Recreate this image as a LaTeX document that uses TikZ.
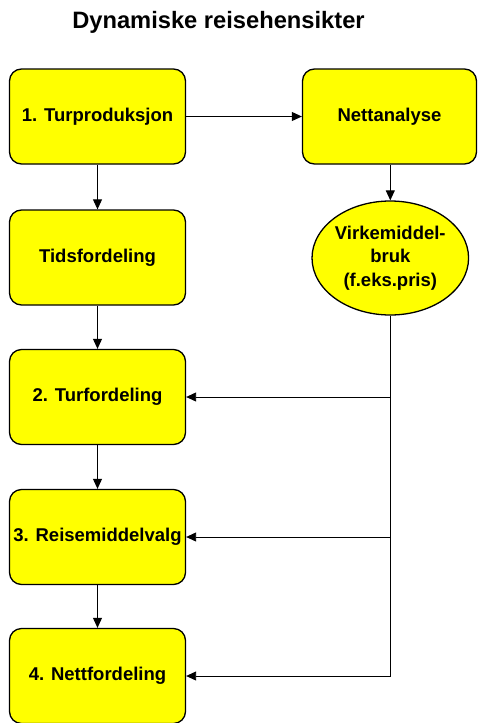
\documentclass[tikz,border=0pt]{standalone}
\usepackage{fontspec}
\setmainfont{Liberation Sans}
\usetikzlibrary{arrows.meta,shapes.geometric}
\definecolor{boxyellow}{RGB}{255,255,0}
\begin{document}
\begin{tikzpicture}[x=1pt,y=1pt,
  boxnode/.style={draw=black,line width=1.3pt,fill=boxyellow,rounded corners=12pt,
    minimum width=176pt,minimum height=95pt,inner sep=0pt,align=center,
    font=\fontsize{18.5}{22}\selectfont\bfseries},
  circnode/.style={draw=black,line width=1.3pt,fill=boxyellow,ellipse,
    minimum width=133pt,minimum height=114pt,inner sep=0pt,align=center,
    font=\fontsize{18.5}{23.5}\selectfont\bfseries},
  conn/.style={line width=0.9pt,-{Triangle[length=10pt,width=9pt]}},
  plain/.style={line width=0.9pt}]
\useasboundingbox (0,0) rectangle (477,-723);
\node[font=\fontsize{23.7}{28}\selectfont\bfseries] (title) at (218.5,-22) {Dynamiske reisehensikter};
\node[boxnode] (tp) at (97.5,-116.5) {1. Turproduksjon};
\node[boxnode,minimum width=174pt] (na) at (389.5,-116.5) {Nettanalyse};
\node[boxnode] (tf) at (97.5,-257.5) {Tidsfordeling};
\node[circnode] (vm) at (390.3,-258) {Virkemiddel-\\bruk\\(f.eks.pris)};
\node[boxnode] (tu) at (97.5,-397) {2. Turfordeling};
\node[boxnode] (rv) at (97.5,-537) {3. Reisemiddelvalg};
\node[boxnode] (nf) at (97.5,-676) {4. Nettfordeling};
\draw[conn] (tp) -- (na);
\draw[conn] (tp) -- (tf);
\draw[conn] (tf) -- (tu);
\draw[conn] (tu) -- (rv);
\draw[conn] (rv) -- (nf);
\draw[conn] (na.south -| vm.north) -- (vm.north);
\draw[conn] (vm.south) |- (tu.east);
\draw[conn] (vm.south) |- (rv.east);
\draw[conn] (vm.south) |- (nf.east);
\end{tikzpicture}
\end{document}
